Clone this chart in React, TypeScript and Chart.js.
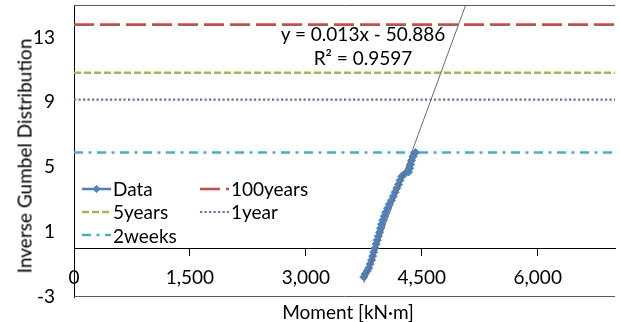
import React, { useEffect, useRef } from 'react';
import { Chart, registerables } from 'chart.js';

Chart.register(...registerables);

// ---- data ----
const X_TICKS = [0, 1500, 3000, 4500, 6000];
const Y_TICKS = [-3, 1, 5, 9, 13];
const X_MIN = 0;
const X_MAX = 7000;
const Y_MIN = -3;
const Y_MAX = 15;

const DATA_X = [3749, 3768, 3794, 3813, 3832, 3851, 3864, 3877, 3894, 3909, 3922, 3938, 3954, 3966, 3979, 3996, 4015, 4034, 4056, 4079, 4107, 4132, 4154, 4177, 4199, 4219, 4241, 4279, 4330, 4343, 4356, 4369, 4388, 4420];
const DATA_Y = [-1.77, -1.58, -1.4, -1.22, -0.97, -0.72, -0.48, -0.23, 0.01, 0.26, 0.5, 0.75, 0.99, 1.24, 1.49, 1.73, 1.98, 2.22, 2.47, 2.72, 2.96, 3.21, 3.45, 3.7, 3.94, 4.19, 4.43, 4.59, 4.71, 4.93, 5.17, 5.42, 5.66, 5.91];

const LEVEL_NAMES = ['100years', '5years', '1year', '2weeks'];
const LEVEL_VALUES = [13.79, 10.82, 9.17, 5.91];

const TREND_SLOPE = 0.013;
const TREND_INTERCEPT = -50.886;
const TREND_R2 = 0.9597;
const TREND_X_END = 5400;

const X_TITLE = 'Moment [kN·m]';
const Y_TITLE = 'Inverse Gumbel Distribution';

// ---- styles ----
const FONT = 'Lato, "Open Sans", sans-serif';
const FONT_SIZE = 19;
const DATA_COLOR = '#4F81BD';
const LEVEL_COLORS = ['#C0504D', '#9BBB59', '#8064A2', '#4BACC6'];
const LEVEL_DASHES = [[20, 6], [7, 3], [2.2, 2.3], [9, 5.5, 3, 5.5]];
const LEVEL_WIDTHS = [2.6, 2.5, 2.2, 2.5];

const framePlugin = {
  id: 'frame',
  afterDraw(chart: any) {
    const { ctx, chartArea } = chart;
    ctx.save();
    ctx.strokeStyle = '#595959';
    ctx.lineWidth = 1;
    ctx.beginPath();
    ctx.moveTo(chartArea.left, Math.round(chartArea.top) + 0.5);
    ctx.lineTo(chartArea.right, Math.round(chartArea.top) + 0.5);
    ctx.moveTo(chartArea.left, Math.round(chartArea.bottom) - 0.5);
    ctx.lineTo(chartArea.right, Math.round(chartArea.bottom) - 0.5);
    ctx.stroke();
    ctx.restore();
  },
};

function LegendSample({ kind, idx }: { kind: 'data' | 'level'; idx: number }) {
  if (kind === 'data') {
    return (
      <svg width={29} height={12} style={{ display: 'block' }}>
        <line x1={0} y1={6} x2={29} y2={6} stroke={DATA_COLOR} strokeWidth={2.5} />
        <polygon points="14.5,2 18.5,6 14.5,10 10.5,6" fill={DATA_COLOR} />
      </svg>
    );
  }
  return (
    <svg width={29} height={12} style={{ display: 'block' }}>
      <line
        x1={0}
        y1={6}
        x2={29}
        y2={6}
        stroke={LEVEL_COLORS[idx]}
        strokeWidth={LEVEL_WIDTHS[idx]}
        strokeDasharray={LEVEL_DASHES[idx].join(' ')}
      />
    </svg>
  );
}

export default function App() {
  const ref = useRef<HTMLCanvasElement | null>(null);

  useEffect(() => {
    if (!ref.current) return;
    Chart.defaults.font.family = FONT;
    Chart.defaults.font.size = FONT_SIZE;
    Chart.defaults.color = '#000';

    const levelSets = LEVEL_NAMES.map((name, i) => ({
      label: name,
      data: [
        { x: X_MIN, y: LEVEL_VALUES[i] },
        { x: X_MAX, y: LEVEL_VALUES[i] },
      ],
      showLine: true,
      borderColor: LEVEL_COLORS[i],
      borderWidth: LEVEL_WIDTHS[i],
      borderDash: LEVEL_DASHES[i],
      pointRadius: 0,
      pointHoverRadius: 0,
      order: 3,
    }));

    const dataPts = DATA_X.map((x, i) => ({ x, y: DATA_Y[i] }));
    const trendStart = Math.min(...DATA_X);
    const trendPts = [trendStart, TREND_X_END].map((x) => ({ x, y: TREND_SLOPE * x + TREND_INTERCEPT }));

    const chart = new Chart(ref.current, {
      type: 'scatter',
      data: {
        datasets: [
          ...levelSets,
          {
            label: 'Data',
            data: dataPts,
            showLine: true,
            borderColor: DATA_COLOR,
            backgroundColor: DATA_COLOR,
            borderWidth: 3.5,
            pointStyle: 'rectRot',
            pointRadius: 4,
            pointBorderWidth: 1,
            order: 2,
          },
          {
            label: 'Linear (Data)',
            data: trendPts,
            showLine: true,
            borderColor: '#6a6a6a',
            borderWidth: 1,
            pointRadius: 0,
            order: 1,
          },
        ] as any,
      },
      options: {
        animation: false,
        responsive: false,
        layout: { padding: { top: 4, bottom: 25, left: 0, right: -2 } },
        plugins: {
          legend: { display: false },
          tooltip: { enabled: false },
          title: { display: false },
        },
        scales: {
          x: {
            type: 'linear',
            position: { y: 0 } as any,
            min: X_MIN,
            max: X_MAX,
            afterBuildTicks: (scale: any) => {
              scale.ticks = X_TICKS.map((v) => ({ value: v }));
            },
            ticks: {
              autoSkip: false,
              maxRotation: 0,
              padding: 11,
              color: '#000',
              font: { family: FONT, size: FONT_SIZE },
              callback: (v: any) => Number(v).toLocaleString('en-US'),
            },
            grid: { drawOnChartArea: false, drawTicks: true, tickLength: 7, color: '#000' },
            border: { display: true, color: '#000', width: 1 },
          },
          y: {
            type: 'linear',
            position: 'left',
            min: Y_MIN,
            max: Y_MAX,
            afterBuildTicks: (scale: any) => {
              scale.ticks = Y_TICKS.map((v) => ({ value: v }));
            },
            afterFit: (scale: any) => {
              scale.width = 74;
              scale.paddingTop = 0;
              scale.paddingBottom = 0;
            },
            ticks: {
              padding: 19,
              color: '#000',
              font: { family: FONT, size: FONT_SIZE },
            },
            grid: { display: false, drawTicks: false },
            border: { display: true, color: '#000', width: 1 },
          },
        },
      } as any,
      plugins: [framePlugin],
    });
    return () => chart.destroy();
  }, []);

  const textStyle: React.CSSProperties = {
    position: 'absolute',
    fontFamily: FONT,
    fontSize: FONT_SIZE,
    lineHeight: '23px',
    color: '#000',
    whiteSpace: 'nowrap',
  };

  const legendRows: { kind: 'data' | 'level'; idx: number; label: string; left: number; cy: number }[] = [
    { kind: 'data', idx: 0, label: 'Data', left: 82, cy: 188.5 },
    { kind: 'level', idx: 0, label: LEVEL_NAMES[0], left: 200, cy: 188.5 },
    { kind: 'level', idx: 1, label: LEVEL_NAMES[1], left: 82, cy: 211.5 },
    { kind: 'level', idx: 2, label: LEVEL_NAMES[2], left: 200, cy: 211.5 },
    { kind: 'level', idx: 3, label: LEVEL_NAMES[3], left: 82, cy: 235 },
  ];

  return (
    <div style={{ position: 'absolute', left: 0, top: 0, width: 620, height: 322, overflow: 'hidden', background: '#fff' }}>
      <canvas ref={ref} width={620} height={322} style={{ display: 'block' }} />
      {legendRows.map((r, i) => (
        <div key={i} style={{ position: 'absolute', left: r.left, top: r.cy - 11.5, height: 23, display: 'flex', alignItems: 'center' }}>
          <LegendSample kind={r.kind} idx={r.idx} />
          <span style={{ ...textStyle, position: 'static', marginLeft: 2 }}>{r.label}</span>
        </div>
      ))}
      <div style={{ ...textStyle, left: 363, top: 22, transform: 'translateX(-50%)', textAlign: 'center', lineHeight: '24px' }}>
        <div>{`y = ${TREND_SLOPE}x - ${Math.abs(TREND_INTERCEPT)}`}</div>
        <div>{`R² = ${TREND_R2}`}</div>
      </div>
      <div style={{ ...textStyle, left: 24, top: 156, transform: 'translate(-50%, -50%) rotate(-90deg)' }}>{Y_TITLE}</div>
      <div style={{ ...textStyle, left: 348, top: 311, transform: 'translate(-50%, -50%)' }}>{X_TITLE}</div>
    </div>
  );
}
